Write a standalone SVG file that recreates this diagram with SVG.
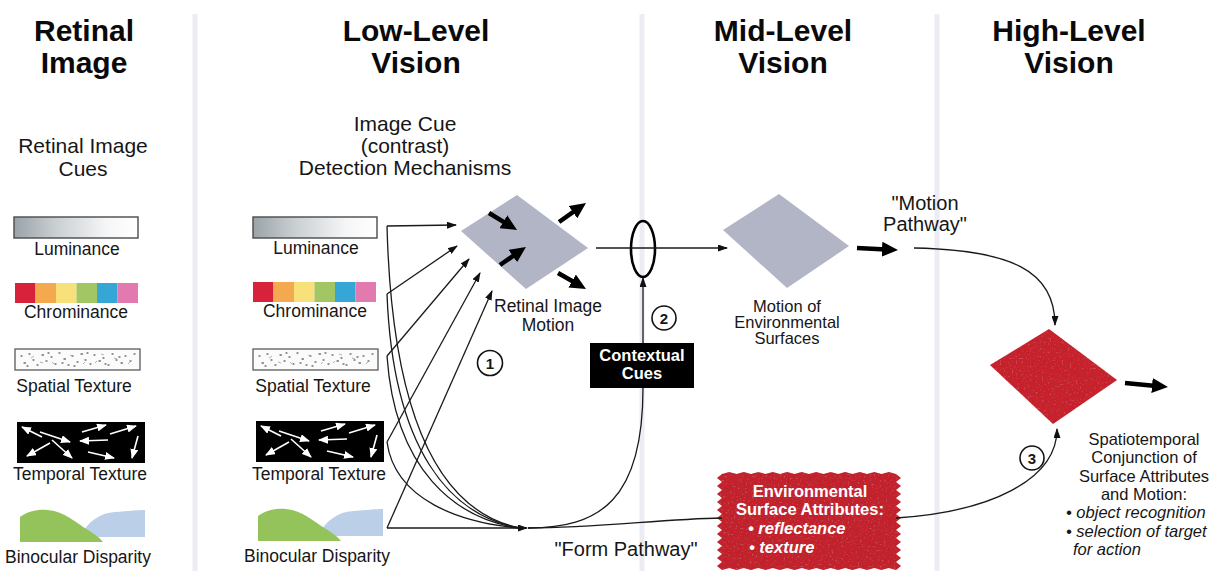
<svg xmlns="http://www.w3.org/2000/svg" width="1221" height="571" viewBox="0 0 1221 571">
<defs>
<style>
  text { font-family: "Liberation Sans", Arial, Helvetica, sans-serif; fill: #161616; }
  .hdr { font-size: 30px; font-weight: bold; text-anchor: middle; fill: #0a0a0a; }
  .sub { font-size: 21px; text-anchor: middle; }
  .cue { font-size: 17.5px; text-anchor: middle; }
  .cap { font-size: 16.5px; text-anchor: middle; }
  .path { font-size: 20px; text-anchor: middle; }
  .ital { font-size: 16.5px; font-style: italic; }
  .inv { fill: #fff; font-weight: bold; font-size: 16.5px; text-anchor: middle; }
  .invi { fill: #fff; font-weight: bold; font-style: italic; font-size: 16.5px; }
  .num { font-size: 15px; font-weight: bold; text-anchor: middle; }
  .sep { stroke: #ececf5; stroke-width: 5; }
  .wire { fill: none; stroke: #1a1a1a; stroke-width: 1.3; }
  .thick { stroke: #000; stroke-width: 4.5; }
  .badge { fill: #fff; stroke: #111; stroke-width: 1.6; }
  .wa { stroke: #fff; stroke-width: 1.6; }
  .plate { fill: #b2b5c6; }
</style>
<marker id="head" markerUnits="userSpaceOnUse" markerWidth="10" markerHeight="7" refX="9" refY="3.5" orient="auto">
  <path d="M0,0 L10,3.5 L0,7 z" fill="#111"/>
</marker>
<marker id="bighead" markerUnits="userSpaceOnUse" markerWidth="17" markerHeight="15" refX="4" refY="7.5" orient="auto">
  <path d="M0,0 L16,7.5 L0,15 z" fill="#000"/>
</marker>
<marker id="whead" markerUnits="userSpaceOnUse" markerWidth="10" markerHeight="8" refX="9" refY="4" orient="auto">
  <path d="M0,0 L10,4 L0,8 z" fill="#fff"/>
</marker>
<linearGradient id="lumGrad" x1="0" y1="0" x2="1" y2="0">
  <stop offset="0" stop-color="#9ba3a9"/>
  <stop offset="0.35" stop-color="#cbd0d3"/>
  <stop offset="0.75" stop-color="#f5f6f7"/>
  <stop offset="1" stop-color="#ffffff"/>
</linearGradient>
<filter id="grain" x="0" y="0" width="1" height="1">
  <feTurbulence type="fractalNoise" baseFrequency="0.5" numOctaves="2" seed="7" result="noise"/>
  <feColorMatrix in="noise" type="matrix" values="0 0 0 0 0.45  0 0 0 0 0.03  0 0 0 0 0.06  1.4 0 0 0 -0.62" result="dark"/>
  <feColorMatrix in="noise" type="matrix" values="0 0 0 0 0.9  0 0 0 0 0.35  0 0 0 0 0.35  0 1.0 0 0 -0.62" result="light"/>
  <feComposite in="dark" in2="SourceGraphic" operator="in" result="darkIn"/>
  <feComposite in="light" in2="SourceGraphic" operator="in" result="lightIn"/>
  <feMerge><feMergeNode in="SourceGraphic"/><feMergeNode in="darkIn"/><feMergeNode in="lightIn"/></feMerge>
</filter>

<!-- cue swatches, drawn at the origin -->
<g id="sw-lum">
  <rect x="0" y="0" width="124" height="21" fill="url(#lumGrad)" stroke="#4a4a4a" stroke-width="1.4"/>
</g>
<g id="sw-chrom">
  <rect x="0" y="0" width="20.5" height="20" fill="#d8213b"/>
  <rect x="20.5" y="0" width="20.5" height="20" fill="#f4a94f"/>
  <rect x="41" y="0" width="20.5" height="20" fill="#f8e07a"/>
  <rect x="61.5" y="0" width="20.5" height="20" fill="#a2c664"/>
  <rect x="82" y="0" width="20.5" height="20" fill="#35a6d6"/>
  <rect x="102.5" y="0" width="20.5" height="20" fill="#e27ab0"/>
</g>
<g id="sw-spatial">
  <rect x="0" y="0" width="125" height="21" fill="#fbfbfc" stroke="#5a5a5a" stroke-width="1.3"/>
  <path d="M6,7h1 M9,14h1.5 M14,5h1 M18,11h1 M22,16h1 M27,6h1.5 M31,12h1 M36,8h1 M40,15h1 M44,4h1 M49,10h1.5 M53,16h1 M57,7h1 M62,13h1 M66,5h1.5 M70,11h1 M75,15h1 M79,6h1 M84,12h1.5 M88,9h1 M93,16h1 M97,5h1 M101,11h1 M106,14h1.5 M110,7h1 M115,12h1 M119,5h1 M12,17h1 M47,14h1 M72,4h1 M90,15h1 M104,8h1 M33,4h1 M59,17h1" stroke="#6f6f6f" stroke-width="1.3" stroke-linecap="round"/>
  <path d="M16,9l3,-2 M37,13l2,2 M55,6l3,1 M80,14l2,-2 M99,9l3,1 M113,15l2,-2 M25,13l3,1 M68,15l2,-2 M86,5l3,1" stroke="#a0a0a0" stroke-width="0.8"/>
</g>
<g id="sw-temporal">
  <rect x="0" y="0" width="128" height="41" fill="#000"/>
  <g class="wa" marker-end="url(#whead)">
    <line x1="25" y1="15" x2="5" y2="5"/>
    <line x1="23" y1="10" x2="53" y2="20"/>
    <line x1="65" y1="10" x2="89" y2="3"/>
    <line x1="93" y1="12" x2="119" y2="4"/>
    <line x1="91" y1="18" x2="63" y2="19"/>
    <line x1="33" y1="21" x2="10" y2="34"/>
    <line x1="35" y1="18" x2="55" y2="36"/>
    <line x1="71" y1="30" x2="97" y2="36"/>
    <line x1="121" y1="14" x2="115" y2="36"/>
  </g>
</g>
<g id="sw-binoc">
  <path d="M60,28 C68,12 80,4 95,3 C108,2 117,1 125,1 L125,28 Z" fill="#bccfe9"/>
  <path d="M0,33 L0,8 C8,2 18,0 28,1 C45,3 55,13 68,21 C76,26 80,29 83,33 Z" fill="#94c35b"/>
</g>
</defs>

<rect width="1221" height="571" fill="#fff"/>

<!-- stage dividers -->
<g id="dividers">
  <line class="sep" x1="195" y1="14" x2="195" y2="571"/>
  <line class="sep" x1="642" y1="14" x2="642" y2="571"/>
  <line class="sep" x1="937" y1="14" x2="937" y2="571"/>
</g>

<!-- stage headings -->
<g id="headings">
  <text class="hdr" x="84" y="41">Retinal</text>
  <text class="hdr" x="84" y="73">Image</text>
  <text class="hdr" x="416" y="41">Low-Level</text>
  <text class="hdr" x="416" y="73">Vision</text>
  <text class="hdr" x="783" y="41">Mid-Level</text>
  <text class="hdr" x="783" y="73">Vision</text>
  <text class="hdr" x="1069" y="41">High-Level</text>
  <text class="hdr" x="1069" y="73">Vision</text>
</g>

<!-- retinal image column -->
<g id="retinal-cues-title">
  <text class="sub" x="83" y="153">Retinal Image</text>
  <text class="sub" x="83" y="176">Cues</text>
</g>
<g id="retinal-luminance">
  <use href="#sw-lum" x="14" y="217"/>
  <text class="cue" x="77" y="255">Luminance</text>
</g>
<g id="retinal-chrominance">
  <use href="#sw-chrom" x="15" y="283"/>
  <text class="cue" x="76" y="318">Chrominance</text>
</g>
<g id="retinal-spatial">
  <use href="#sw-spatial" x="15" y="349"/>
  <text class="cue" x="74" y="392">Spatial Texture</text>
</g>
<g id="retinal-temporal">
  <use href="#sw-temporal" x="17" y="422"/>
  <text class="cue" x="80" y="480">Temporal Texture</text>
</g>
<g id="retinal-binocular">
  <use href="#sw-binoc" x="20" y="509"/>
  <text class="cue" x="78" y="563">Binocular Disparity</text>
</g>

<!-- low-level column -->
<g id="detection-title">
  <text class="sub" x="405" y="131">Image Cue</text>
  <text class="sub" x="405" y="153">(contrast)</text>
  <text class="sub" x="405" y="175">Detection Mechanisms</text>
</g>
<g id="low-luminance">
  <use href="#sw-lum" x="253" y="217"/>
  <text class="cue" x="316" y="254">Luminance</text>
</g>
<g id="low-chrominance">
  <use href="#sw-chrom" x="253" y="282"/>
  <text class="cue" x="315" y="317">Chrominance</text>
</g>
<g id="low-spatial">
  <use href="#sw-spatial" x="253" y="349"/>
  <text class="cue" x="313" y="392">Spatial Texture</text>
</g>
<g id="low-temporal">
  <use href="#sw-temporal" x="256" y="421"/>
  <text class="cue" x="319" y="480">Temporal Texture</text>
</g>
<g id="low-binocular">
  <use href="#sw-binoc" x="258" y="508"/>
  <text class="cue" x="317" y="562">Binocular Disparity</text>
</g>

<g id="retinal-image-motion">
  <polygon class="plate" points="461,231 517,195 588,248 526,289"/>
  <line class="thick" x1="489" y1="213" x2="506.8" y2="223.8" marker-end="url(#bighead)"/>
  <line class="thick" x1="500" y1="265" x2="516.1" y2="253.8" marker-end="url(#bighead)"/>
  <line class="thick" x1="559" y1="222" x2="576.2" y2="209.9" marker-end="url(#bighead)"/>
  <line class="thick" x1="558" y1="273" x2="575.6" y2="283" marker-end="url(#bighead)"/>
  <text class="cue" x="548" y="312">Retinal Image</text>
  <text class="cue" x="548" y="331">Motion</text>
</g>

<g id="badge-1">
  <circle class="badge" cx="490" cy="363" r="12.5"/>
  <text class="num" x="490" y="368.5">1</text>
</g>

<!-- mid-level column -->
<g id="gate">
  <ellipse cx="643" cy="249" rx="12" ry="28" fill="none" stroke="#000" stroke-width="2.6"/>
</g>
<g id="badge-2">
  <circle class="badge" cx="664" cy="318" r="12"/>
  <text class="num" x="664" y="323.5">2</text>
</g>
<g id="contextual-cues">
  <rect x="590" y="343" width="104" height="45" fill="#000"/>
  <text class="inv" x="642" y="361">Contextual</text>
  <text class="inv" x="642" y="379">Cues</text>
</g>
<g id="surface-motion">
  <polygon class="plate" points="723,230 779,194 849,246 787,288"/>
  <line class="thick" x1="857" y1="248" x2="886" y2="249.4" marker-end="url(#bighead)"/>
  <text class="cap" x="787" y="312">Motion of</text>
  <text class="cap" x="787" y="328">Environmental</text>
  <text class="cap" x="787" y="344">Surfaces</text>
</g>
<g id="motion-pathway-label">
  <text class="path" x="925" y="210">"Motion</text>
  <text class="path" x="925" y="231">Pathway"</text>
</g>
<g id="form-pathway-label">
  <text class="path" x="626" y="556">"Form Pathway"</text>
</g>
<g id="surface-attributes">
  <path d="M722,474 l7.25,-2 7.25,2 7.25,-2 7.25,2 7.25,-2 7.25,2 7.25,-2 7.25,2 7.25,-2 7.25,2 7.25,-2 7.25,2 7.25,-2 7.25,2 7.25,-2 7.25,2 7.25,-2 7.25,2 7.25,-2 7.25,2 7.25,-2 7.25,2 7.25,-2 7.25,2
    l5,4 -5,4 5,4 -5,4 5,4 -5,4 5,4 -5,4 5,4 -5,4 5,4 -5,4 5,4 -5,4 5,4 -5,4 5,4 -5,4 5,4 -5,4 5,4 -5,4 5,4 -5,4
    l-7.25,-2 -7.25,2 -7.25,-2 -7.25,2 -7.25,-2 -7.25,2 -7.25,-2 -7.25,2 -7.25,-2 -7.25,2 -7.25,-2 -7.25,2 -7.25,-2 -7.25,2 -7.25,-2 -7.25,2 -7.25,-2 -7.25,2 -7.25,-2 -7.25,2 -7.25,-2 -7.25,2 -7.25,-2 -7.25,2
    l-5,-4 5,-4 -5,-4 5,-4 -5,-4 5,-4 -5,-4 5,-4 -5,-4 5,-4 -5,-4 5,-4 -5,-4 5,-4 -5,-4 5,-4 -5,-4 5,-4 -5,-4 5,-4 -5,-4 5,-4 -5,-4 5,-4 Z"
    fill="#c3222a" filter="url(#grain)"/>
  <text class="inv" x="810" y="497">Environmental</text>
  <text class="inv" x="810" y="515">Surface Attributes:</text>
  <text class="invi" x="748" y="534">• reflectance</text>
  <text class="invi" x="749" y="553">• texture</text>
</g>

<!-- high-level column -->
<g id="conjunction">
  <polygon points="990,365 1049,329 1117,380 1053,424" fill="#c8242b" filter="url(#grain)"/>
  <line class="thick" x1="1125" y1="383" x2="1156" y2="385.9" marker-end="url(#bighead)"/>
  <text class="cap" x="1144" y="445">Spatiotemporal</text>
  <text class="cap" x="1144" y="463">Conjunction of</text>
  <text class="cap" x="1144" y="482">Surface Attributes</text>
  <text class="cap" x="1144" y="500">and Motion:</text>
  <text class="ital" x="1066" y="518">• object recognition</text>
  <text class="ital" x="1066" y="537">• selection of target</text>
  <text class="ital" x="1073" y="555">for action</text>
</g>
<g id="badge-3">
  <circle class="badge" cx="1032" cy="458" r="12"/>
  <text class="num" x="1032" y="463.5">3</text>
</g>

<!-- connectors -->
<g id="connectors">
  <!-- cue outputs up to the motion detector -->
  <path class="wire" d="M387,226 L456,225" marker-end="url(#head)"/>
  <path class="wire" d="M387,294 L457,246" marker-end="url(#head)"/>
  <path class="wire" d="M387,356 L469,259" marker-end="url(#head)"/>
  <path class="wire" d="M387,442 L480,273" marker-end="url(#head)"/>
  <path class="wire" d="M387,528 L492,291" marker-end="url(#head)"/>
  <!-- cue outputs down into the form pathway -->
  <path class="wire" d="M387,226 C392,420 440,512 520,528"/>
  <path class="wire" d="M387,294 C393,450 450,516 520,528"/>
  <path class="wire" d="M387,356 C395,470 455,519 520,528"/>
  <path class="wire" d="M387,442 C395,500 460,523 520,528"/>
  <path class="wire" d="M387,528 L527,528" marker-end="url(#head)"/>
  <!-- form pathway branches -->
  <path class="wire" d="M528,528 C600,528 643,500 643,388"/>
  <path class="wire" d="M528,528 C600,528 660,519 722,518"/>
  <!-- motion stream -->
  <path class="wire" d="M596,248 L727,248" marker-end="url(#head)"/>
  <path class="wire" d="M643,343 L643,278" marker-end="url(#head)"/>
  <path class="wire" d="M914,248 C1010,250 1055,270 1055,325" marker-end="url(#head)"/>
  <!-- surface attributes to conjunction -->
  <path class="wire" d="M896,518 C990,512 1057,480 1057,429" marker-end="url(#head)"/>
</g>
</svg>
